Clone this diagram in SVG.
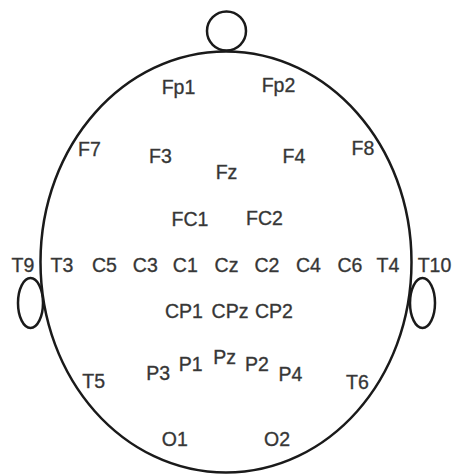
<svg xmlns="http://www.w3.org/2000/svg" width="458" height="474" viewBox="0 0 458 474">
<style>
.ln{fill:#fff;stroke:#1a1a1a;stroke-width:2.5}
.lb{font-family:"Liberation Sans",Arial,sans-serif;font-size:19.5px;fill:#333;stroke:#444;stroke-width:0.35;text-anchor:middle}
</style>
<rect width="458" height="474" fill="#fff"/>
<g id="head">
<ellipse class="ln" cx="30.5" cy="303" rx="12.5" ry="25"/>
<ellipse class="ln" cx="422.5" cy="303" rx="12.5" ry="25"/>
<path class="ln" d="M226,51.5 C328,51.5 411.5,145 411.5,262 C411.5,380 328,472.5 226,472.5 C124,472.5 40.5,380 40.5,262 C40.5,145 124,51.5 226,51.5 Z"/>
<circle class="ln" cx="226.5" cy="31" r="19.5"/>
</g>
<g id="connectors"></g>
<g id="Fp1"><text class="lb" x="178.5" y="93.5">Fp1</text></g>
<g id="Fp2"><text class="lb" x="278.5" y="91.5">Fp2</text></g>
<g id="F7"><text class="lb" x="89.5" y="155.5">F7</text></g>
<g id="F3"><text class="lb" x="160.5" y="162.5">F3</text></g>
<g id="Fz"><text class="lb" x="226.5" y="178.5">Fz</text></g>
<g id="F4"><text class="lb" x="294" y="162.5">F4</text></g>
<g id="F8"><text class="lb" x="363" y="154.5">F8</text></g>
<g id="FC1"><text class="lb" x="190" y="226">FC1</text></g>
<g id="FC2"><text class="lb" x="264.5" y="225">FC2</text></g>
<g id="T9"><text class="lb" x="23" y="271.5">T9</text></g>
<g id="T3"><text class="lb" x="62" y="271.5">T3</text></g>
<g id="C5"><text class="lb" x="104.5" y="271.5">C5</text></g>
<g id="C3"><text class="lb" x="145.3" y="271.5">C3</text></g>
<g id="C1"><text class="lb" x="185.3" y="271.5">C1</text></g>
<g id="Cz"><text class="lb" x="226.5" y="271.5">Cz</text></g>
<g id="C2"><text class="lb" x="267" y="271.5">C2</text></g>
<g id="C4"><text class="lb" x="308.5" y="271.5">C4</text></g>
<g id="C6"><text class="lb" x="350" y="271.5">C6</text></g>
<g id="T4"><text class="lb" x="388" y="271.5">T4</text></g>
<g id="T10"><text class="lb" x="434.5" y="271.5">T10</text></g>
<g id="CP1"><text class="lb" x="184" y="317.5">CP1</text></g>
<g id="CPz"><text class="lb" x="230" y="317.5">CPz</text></g>
<g id="CP2"><text class="lb" x="274" y="317.5">CP2</text></g>
<g id="P3"><text class="lb" x="158.3" y="379.5">P3</text></g>
<g id="P1"><text class="lb" x="190.8" y="371">P1</text></g>
<g id="Pz"><text class="lb" x="224.7" y="363.5">Pz</text></g>
<g id="P2"><text class="lb" x="257" y="370.5">P2</text></g>
<g id="P4"><text class="lb" x="290.5" y="381">P4</text></g>
<g id="T5"><text class="lb" x="93.7" y="387.5">T5</text></g>
<g id="T6"><text class="lb" x="357.5" y="388.5">T6</text></g>
<g id="O1"><text class="lb" x="174.8" y="446">O1</text></g>
<g id="O2"><text class="lb" x="277" y="445.5">O2</text></g>
</svg>
